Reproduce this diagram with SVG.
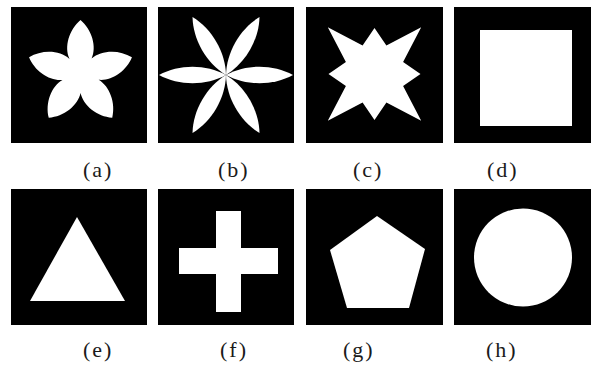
<svg xmlns="http://www.w3.org/2000/svg" xmlns:xlink="http://www.w3.org/1999/xlink" width="593" height="365" viewBox="0 0 593 365">
  <style>
    .bg { fill: #000000; }
    .sh { fill: #ffffff; filter: url(#soft); }
    .lbl { font-family: "Liberation Serif", "DejaVu Serif", serif; font-size: 22px; fill: #1a1a1a; letter-spacing: 2px; }
  </style>
  <defs>
    <filter id="soft" x="-10%" y="-10%" width="120%" height="120%">
      <feGaussianBlur stdDeviation="0.6"/>
    </filter>
    <path id="petal6" d="M0,0 C20,-11 47,-11 67,0 C47,11 20,11 0,0 Z"/>
  </defs>
  <rect width="593" height="365" fill="#ffffff"/>

  <g id="panel-a">
    <rect class="bg" x="11" y="7" width="136" height="136"/>
    <path class="sh" transform="translate(80.5,74) scale(0.965)" d="M-11.5,-16 C-17,-28 -12,-46 0,-56 C12,-46 17,-28 11.5,-16 C21.4,-24.8 40,-25.6 53.3,-17.3 C47.5,-2.8 31.9,7.5 18.8,6 C30.2,12.7 36.8,30.2 32.9,45.3 C17.3,44.3 2.7,32.6 0.1,19.7 C-2.7,32.6 -17.3,44.3 -32.9,45.3 C-36.8,30.2 -30.2,12.7 -18.7,6.2 C-31.9,7.5 -47.5,-2.8 -53.3,-17.3 C-40,-25.6 -21.4,-24.8 -11.7,-15.9 Z"/>
    <text class="lbl" x="83" y="177">(a)</text>
  </g>

  <g id="panel-b">
    <rect class="bg" x="158" y="7" width="136" height="136"/>
    <g class="sh" transform="translate(226,75)">
      <use xlink:href="#petal6"/>
      <use xlink:href="#petal6" transform="rotate(60)"/>
      <use xlink:href="#petal6" transform="rotate(120)"/>
      <use xlink:href="#petal6" transform="rotate(180)"/>
      <use xlink:href="#petal6" transform="rotate(240)"/>
      <use xlink:href="#petal6" transform="rotate(300)"/>
    </g>
    <text class="lbl" x="218" y="177">(b)</text>
  </g>

  <g id="panel-c">
    <rect class="bg" x="306" y="7" width="137" height="136"/>
    <polygon class="sh" points="374.5,28 386.4,45.4 421.2,27.3 403.1,62.1 420.5,74 403.1,85.9 421.2,120.7 386.4,102.6 374.5,120 362.6,102.6 327.8,120.7 345.9,85.9 328.5,74 345.9,62.1 327.8,27.3 362.6,45.4"/>
    <text class="lbl" x="353" y="177">(c)</text>
  </g>

  <g id="panel-d">
    <rect class="bg" x="454" y="7" width="137" height="136"/>
    <rect class="sh" x="480" y="30" width="92" height="96"/>
    <text class="lbl" x="487" y="177">(d)</text>
  </g>

  <g id="panel-e">
    <rect class="bg" x="11" y="189" width="136" height="136"/>
    <polygon class="sh" points="77,217 125,301 30,301"/>
    <text class="lbl" x="83" y="357">(e)</text>
  </g>

  <g id="panel-f">
    <rect class="bg" x="158" y="189" width="136" height="136"/>
    <path class="sh" d="M216,211 H241 V248 H278 V274 H241 V312 H216 V274 H179 V248 H216 Z"/>
    <text class="lbl" x="220" y="357">(f)</text>
  </g>

  <g id="panel-g">
    <rect class="bg" x="306" y="189" width="137" height="136"/>
    <polygon class="sh" points="377,216 425,249 409,308 347,308 330,250"/>
    <text class="lbl" x="343" y="357">(g)</text>
  </g>

  <g id="panel-h">
    <rect class="bg" x="454" y="189" width="137" height="136"/>
    <circle class="sh" cx="523" cy="257.5" r="49"/>
    <text class="lbl" x="486" y="357">(h)</text>
  </g>

  <g id="connectors"/>
</svg>
